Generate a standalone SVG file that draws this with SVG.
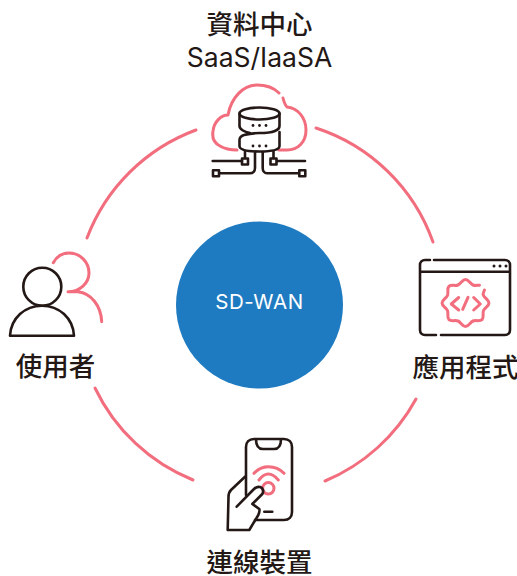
<svg xmlns="http://www.w3.org/2000/svg" width="517" height="576" viewBox="0 0 517 576">
<style>
.p{fill:none;stroke:#f26d7d;stroke-width:3;stroke-linecap:round;stroke-linejoin:round}
.k{fill:none;stroke:#231815;stroke-width:2.6;stroke-linecap:round;stroke-linejoin:round}
.d{fill:#231815}
.t{font-family:"Noto Sans CJK TC",sans-serif;font-weight:500;font-size:26.500px;fill:#231815;text-anchor:middle}
</style>
<rect width="517" height="576" fill="#fff"/>
<g id="connectors">
<path class="p" d="M196 130A185 185 0 0 0 87 238"/>
<path class="p" d="M316 128A185 185 0 0 1 433 242"/>
<path class="p" d="M416 399A185 185 0 0 1 325 481"/>
<path class="p" d="M95 388A185 185 0 0 0 193 480"/>
</g>
<g id="sdwan">
<circle cx="259.500" cy="305" r="83.500" fill="#1f7bc1"/>
<text x="259.500" y="309" text-anchor="middle" font-family="Inter,sans-serif" font-size="20.500" letter-spacing="0.600" fill="#fff">SD-WAN</text>
</g>
<g id="datacenter">
<text class="t" x="259.500" y="34">資料中心</text>
<text x="259.500" y="67" text-anchor="middle" font-family="Inter,sans-serif" font-size="26.500" fill="#231815">SaaS/IaaSA</text>
<path class="p" d="M220 146C214 143 212 137 213 131C214 122 221 115 228 115C231 98 243 85 257 85C267 85 274 88 279 93M283 98C284 102 285 105 287 107C298 108 306 118 306 130C306 142 298 150 287 150H279M220 146C225 149 230 150 237 150"/>
<ellipse class="k" cx="259.500" cy="113.500" rx="20" ry="6"/>
<path class="k" d="M239.500 113.500V126C239.500 129 244 132 250 133M279.500 113.500V126C279.500 131 270 133 259.500 133C254 133 248 134 244 135C241 136 239.500 137.500 239.500 140V146C239.500 150 248 151.500 259.500 151.500C271 151.500 279.500 150 279.500 146V132"/>
<path class="k" d="M245 151.500V158M273.500 151.500V158M212.700 161H242M277 161H305M220 173.300H250C253 173.300 255 171 255 168V152M298.500 173.300H267C264.500 173.300 262.700 171 262.700 168V152"/>
<rect class="k" x="242" y="158.500" width="6" height="6"/><rect class="k" x="270.500" y="158.500" width="6" height="6"/>
<rect class="k" x="213" y="170.300" width="6" height="6"/><rect class="k" x="299.300" y="170.300" width="6" height="6"/>
<circle class="d" cx="253" cy="125.500" r="1.400"/><circle class="d" cx="259.500" cy="125.500" r="1.400"/><circle class="d" cx="266" cy="125.500" r="1.400"/>
<circle class="d" cx="253" cy="146" r="1.400"/><circle class="d" cx="259.500" cy="146" r="1.400"/><circle class="d" cx="266" cy="146" r="1.400"/>
</g>
<g id="user">
<path class="p" d="M53.300 262.700C57 256 63 253 69 253C80 253 89 262 89 273C89 283 80 291.700 68 291.700H78C91 293 101 306 101.700 321.700"/>
<circle class="k" cx="42.300" cy="286.700" r="19"/>
<path class="k" d="M10 335.700C11 318 25 305.700 42 305.700C59 305.700 73 318 74 335.700Z"/>
<text class="t" x="55.500" y="376">使用者</text>
</g>
<g id="app">
<path class="k" d="M430 260H425C422 260 420 262 420 265V330C420 333 422 335 425 335H436M441 335H505C508 335 510 333 510 330V265C510 262 508 260 505 260H434M420 271.700H510"/>
<circle class="d" cx="494" cy="266" r="1.500"/><circle class="d" cx="500" cy="266" r="1.500"/><circle class="d" cx="506" cy="266" r="1.500"/>
<path class="p" d="M484.500 290C484 292 482.350 292.730 483.500 295.500C484.650 298.270 489 300 489 303C489 306 484.650 307.730 483.500 310.500C482.350 313.270 484.220 317.480 482.100 319.600C479.980 321.720 475.770 319.850 473 321C470.230 322.150 468.500 326.500 465.500 326.500C462.500 326.500 460.770 322.150 458 321C455.230 319.850 451.020 321.720 448.900 319.600C446.780 317.480 448.650 313.270 447.500 310.500C446.350 307.730 442 306 442 303C442 300 446.350 298.270 447.500 295.500C448.650 292.730 446.780 288.520 448.900 286.400C451.020 284.280 455.230 286.150 458 285C460.770 283.850 462.500 279.500 465.500 279.500C468.500 279.500 470.230 283.850 473 285C475.770 286.150 477 285 479.500 285.200"/>
<path class="p" d="M458.700 297.500L451.300 304L458.700 310M473.700 297.500L480.300 304L473.700 310M468 297.300L462.700 309.300"/>
<text class="t" x="465.500" y="377">應用程式</text>
</g>
<g id="device">
<path class="k" d="M246 495V447C246 442 249 439 254 439H284C289 439 292 442 292 447V512C292 517 289 520 284 520H255M256 439C256 445 258 449 263 449H274C279 449 281 445 281 439M264.300 511.700H272.300"/>
<path class="p" d="M254 473.300C258 469 263 466.700 268.300 466.700C274 466.700 280 469 284 473.300M259 480C262 476 265 474 268.300 474C272 474 275 476 278.300 480"/>
<circle class="p" cx="268.300" cy="488.300" r="5.700"/>
<path class="k" d="M245 476.700L231 490C229 492 228.500 494 228.500 497L227.700 530H249.300L258.300 515C259.500 512 260 510.500 259.300 509L252.300 504L262.300 494C264 491 263 488 260 487C258 486.500 256 487 254 489L236.700 506.700"/>
<text class="t" x="259.500" y="572">連線裝置</text>
</g>
</svg>
